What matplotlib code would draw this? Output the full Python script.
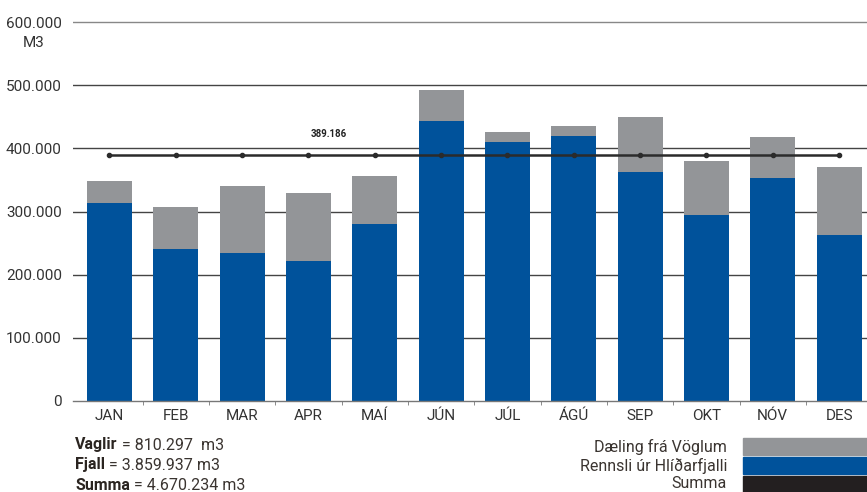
import matplotlib
matplotlib.use("Agg")
from matplotlib import pyplot as plt
from matplotlib.patches import Rectangle

plt.rcParams['font.family'] = ['Roboto', 'DejaVu Sans']

months = ["JAN", "FEB", "MAR", "APR", "MAÍ", "JÚN", "JÚL", "ÁGÚ", "SEP", "OKT", "NÓV", "DES"]
# Rennsli ur Hlidarfjalli (blue) and total (top of grey), m3
fjall = [313000, 240500, 234000, 221500, 280000, 443000, 410000, 419000, 362000, 294000, 353000, 263000]
total = [348000, 307000, 340000, 329000, 356000, 492000, 425600, 435000, 449000, 380000, 418000, 370000]
vaglir = [t - f for t, f in zip(total, fjall)]
average = 389186
yticks = [0, 100000, 200000, 300000, 400000, 500000, 600000]
ylabels = ["0", "100.000", "200.000", "300.000", "400.000", "500.000", "600.000"]

blue = "#00529b"
grey = "#939598"
dark = "#231f20"
txt = "#333333"

W, H = 867, 492
fig = plt.figure(figsize=(W/100, H/100), dpi=100)
ytop = 604000
ax = fig.add_axes([73/W, 1-401/H, 1-73/W, (401-22)/H*ytop/600000])

x = list(range(len(months)))
ax.bar(x, fjall, width=0.68, color=blue, zorder=2)
ax.bar(x, vaglir, bottom=fjall, width=0.68, color=grey, zorder=2)
ax.plot(x, [average]*len(x), color="#2b2b2b", lw=1.8, marker="o", ms=3, zorder=3)
ax.text(3.3, average + 33000, "389.186", ha="center", va="center", fontsize=7, fontweight="bold", color="#222222")

ax.set_xlim(-0.55, 11.42)
ax.set_ylim(0, ytop)
ax.set_yticks(yticks)
ax.set_yticklabels(ylabels)
for y in yticks[1:]:
    ax.axhline(y, color="#888888" if y == 600000 else "#444444", lw=1, zorder=1)
ax.tick_params(axis="y", length=0, pad=8, labelsize=11, labelcolor=txt)
ax.set_xticks(x)
ax.set_xticklabels(months)
ax.tick_params(axis="x", length=0, pad=6, labelsize=11, labelcolor=txt)
ax.set_xticks([i - 0.5 for i in range(1, 12)], minor=True)
ax.tick_params(axis="x", which="minor", length=3, color="#777777", direction="out")
for s in ["top", "right", "left"]:
    ax.spines[s].set_visible(False)
ax.spines["bottom"].set_color("#777777")
ax.spines["bottom"].set_linewidth(1)

fig.text(34/W, 1-43/H, "M3", ha="center", va="center", fontsize=11, color=txt)

# summary text, bold name + normal value
rows = [("Vaglir", " = 810.297  m3"), ("Fjall", " = 3.859.937 m3"), ("Summa", " = 4.670.234 m3")]
for (name, val), yc in zip(rows, [445, 465, 485]):
    t = fig.text(75/W, 1-yc/H, name, ha="left", va="center", fontsize=11.5,
                 fontweight="bold", color="#2a2420")
    plt.annotate(val, xy=(1, 0.5), xycoords=t, ha="left", va="center",
                 fontsize=11.5, color="#3a3430")

# legend
leg = [("Dæling frá Vöglum", grey), ("Rennsli úr Hlíðarfjalli", blue), ("Summa", dark)]
for (lab, c), (y0, y1) in zip(leg, [(438, 455), (457, 474), (476, 492)]):
    fig.patches.append(Rectangle((743/W, 1-y1/H), 1-743/W, (y1-y0)/H, transform=fig.transFigure,
                                 color=c, figure=fig))
    fig.text(727/W, 1-((y0+y1)/2)/H, lab, ha="right", va="center", fontsize=11.5, color="#3a3430")

fig.savefig("out.png", dpi=100)
